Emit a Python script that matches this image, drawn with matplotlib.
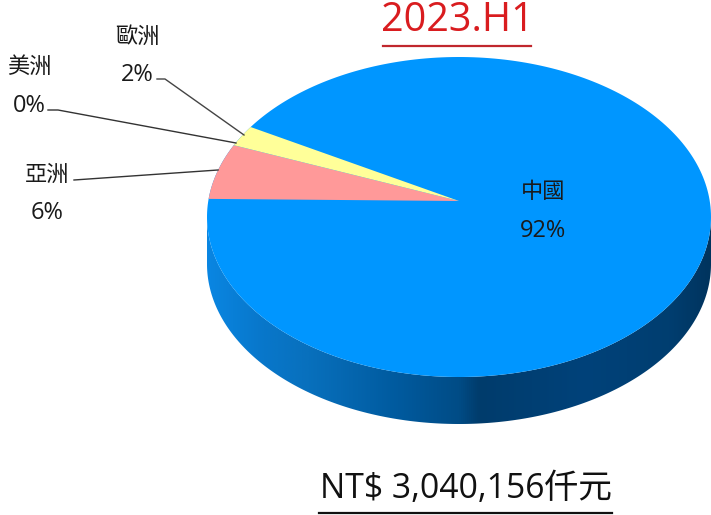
import matplotlib
matplotlib.use('Agg')
import matplotlib.pyplot as plt
import numpy as np
from matplotlib.colors import LinearSegmentedColormap
from matplotlib.patches import Polygon

regions = ['中國', '亞洲', '美洲', '歐洲']
shares = [92.3, 5.6, 0.0, 2.1]
slice_colors = ['#0096ff', '#ff9999', '#7f7f7f', '#ffff99']
title = '2023.H1'
total_label = 'NT$ 3,040,156仟元'

plt.rcParams['font.family'] = ['Open Sans', 'Noto Sans CJK TC', 'DejaVu Sans']

# pie geometry in pixels, the apex sits above the ellipse centre (perspective)
cx, cy = 459, 217
rx, ry = 252, 160
apex = (459, 201)
depth = 47
start_angle = 173.5  # degrees, clockwise on screen from the left side

fig = plt.figure(figsize=(7.11, 5.15), dpi=100)
ax = fig.add_axes([0, 0, 1, 1])


def arc(a0, a1, dy=0):
    # a is measured counter-clockwise with y pointing up
    t = np.radians(np.linspace(a0, a1, 300))
    return np.column_stack([cx + rx * np.cos(t), cy + dy - ry * np.sin(t)])


# side wall with horizontal gradient
wall_cmap = LinearSegmentedColormap.from_list('wall', [
    (0.0, '#0a86e2'), (0.10, '#0878cc'), (0.20, '#0870bd'), (0.38, '#005a9e'),
    (0.50, '#004c86'), (0.54, '#003c6c'), (0.75, '#00427a'), (0.92, '#003e70'),
    (1.0, '#00345e')])
gradient = np.linspace(0, 1, 512).reshape(1, -1)
wall_image = ax.imshow(gradient, cmap=wall_cmap, aspect='auto',
                       extent=[cx - rx, cx + rx, cy + ry + depth, cy], zorder=1)
wall_outline = np.vstack([arc(180, 360), arc(360, 180, depth)])
wall_clip = Polygon(wall_outline, closed=True, transform=ax.transData)
wall_image.set_clip_path(wall_clip)

# top face
ax.fill(*arc(0, 360).T, color=slice_colors[0], lw=0, zorder=2)
angle = start_angle
for share, color in zip(shares[1:], slice_colors[1:]):
    sweep = share * 3.6
    if sweep > 0:
        edge = arc(angle, angle - sweep)
        ax.fill(*np.vstack([apex, edge]).T, color=color, lw=0, zorder=3)
    angle -= sweep

# labels
name_style = dict(fontsize=16, ha='center', va='center', color='#1a1a1a', zorder=5)
value_style = dict(fontsize=17, ha='center', va='center', color='#1a1a1a', zorder=5)
label_pos = {'中國': (543, 193, 231), '亞洲': (47, 175, 213), '美洲': (29, 67, 106), '歐洲': (137, 37, 75)}
for region, share in zip(regions, shares):
    x, y_name, y_value = label_pos[region]
    ax.text(x, y_name, region, **name_style)
    ax.text(x, y_value, f'{share:.0f}%', **value_style)

# leader lines
ax.plot([74, 218], [180, 170], color='#333333', lw=1, zorder=4)
ax.plot([48, 58, 236], [110, 110, 143], color='#333333', lw=1, zorder=4)
ax.plot([157, 165, 244], [79, 79, 135], color='#444444', lw=1, zorder=4)

# heading and total
ax.text(457, 21, title, fontsize=28.5, color='#d91c1f', ha='center', va='center')
ax.plot([383, 531], [46, 46], color='#c0272d', lw=1.6)
ax.text(466, 489, total_label, fontsize=24.3, color='#111111', ha='center', va='center')
ax.plot([319, 612], [513, 513], color='#111111', lw=1.6)

ax.set_xlim(0, 711)
ax.set_ylim(515, 0)
ax.axis('off')

fig.savefig('out.png', dpi=100)
